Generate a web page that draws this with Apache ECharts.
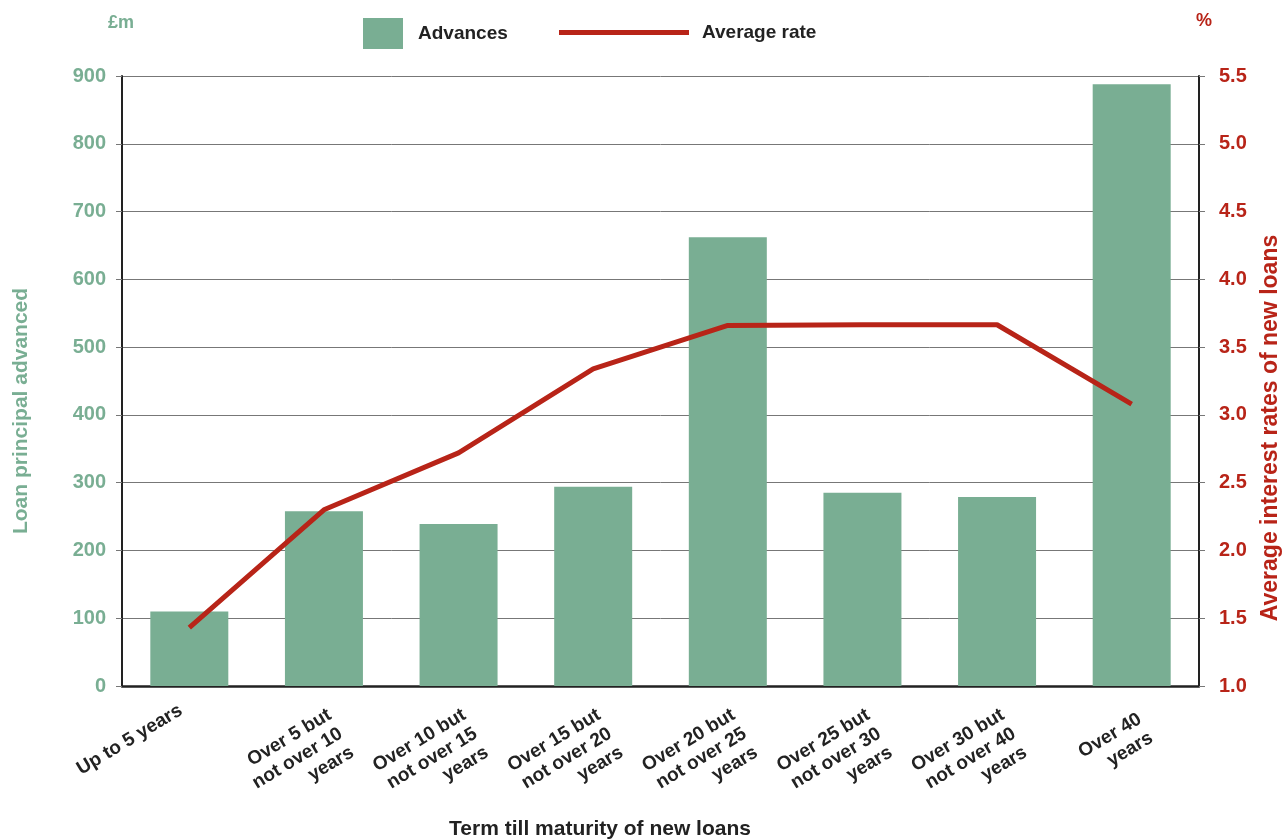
<!DOCTYPE html>
<html>
<head>
<meta charset="utf-8">
<script src="https://cdn.jsdelivr.net/npm/echarts@6/dist/echarts.min.js"></script>
<style>
html,body{margin:0;padding:0;background:#fff;}
#c{width:1286px;height:840px;}
</style>
</head>
<body>
<div id="c"></div>
<script>
const categories = [
  'Up to 5 years',
  'Over 5 but\nnot over 10\nyears',
  'Over 10 but\nnot over 15\nyears',
  'Over 15 but\nnot over 20\nyears',
  'Over 20 but\nnot over 25\nyears',
  'Over 25 but\nnot over 30\nyears',
  'Over 30 but\nnot over 40\nyears',
  'Over 40\nyears'
];
const advances = [110, 258, 239, 294, 662, 285, 279, 888];
const averageRate = [1.43, 2.30, 2.72, 3.34, 3.66, 3.665, 3.665, 3.08];

const GREEN = '#79ae93';
const RED = '#b82418';
const DARK = '#222222';
const FONT = '"Liberation Sans", Arial, Helvetica, sans-serif';

// per-category label tweaks (text placement only)
const categoryData = categories.map((c, i) => {
  if (i === 0) return {value: c, textStyle: {align: 'right', verticalAlign: 'middle', padding: [10, 10, 0, 0]}};
  if (i === categories.length - 1) return {value: c, textStyle: {align: 'right', verticalAlign: 'top', padding: [5, 0, 0, 0]}};
  return c;
});

const chart = echarts.init(document.getElementById('c'), null, {renderer: 'canvas'});
chart.setOption({
  animation: false,
  backgroundColor: '#ffffff',
  textStyle: {fontFamily: FONT},
  grid: {left: 122, right: 87, top: 76, bottom: 154, containLabel: false},
  legend: [
    {
      data: ['Advances'], left: 358, top: 13, icon: 'rect',
      itemWidth: 40, itemHeight: 31,
      textStyle: {fontFamily: FONT, fontSize: 19, fontWeight: 'bold', color: DARK, padding: [0, 0, 0, 10]}
    },
    {
      data: ['Average rate'], left: 554, top: 18, icon: 'rect',
      itemWidth: 130, itemHeight: 5,
      textStyle: {fontFamily: FONT, fontSize: 19, fontWeight: 'bold', color: DARK, padding: [0, 0, 0, 8]}
    }
  ],
  xAxis: {
    type: 'category',
    data: categoryData,
    axisLine: {show: true, lineStyle: {color: DARK, width: 2.5}},
    axisTick: {show: false},
    splitLine: {show: false},
    axisLabel: {
      interval: 0, rotate: 31, hideOverlap: false,
      margin: 18, verticalAlign: 'top', align: 'right',
      fontFamily: FONT, fontSize: 19, fontWeight: 'bold', color: DARK, lineHeight: 22
    }
  },
  yAxis: [
    {
      type: 'value', min: 0, max: 900, interval: 100, position: 'left',
      axisLine: {show: true, lineStyle: {color: DARK, width: 2}},
      axisTick: {show: true, length: 6, lineStyle: {color: '#777', width: 1}},
      splitLine: {show: true, lineStyle: {color: '#777', width: 1}},
      axisLabel: {margin: 16, fontFamily: FONT, fontSize: 20, fontWeight: 'bold', color: GREEN}
    },
    {
      type: 'value', min: 1, max: 5.5, interval: 0.5, position: 'right',
      axisLine: {show: true, lineStyle: {color: DARK, width: 2}},
      axisTick: {show: true, length: 6, lineStyle: {color: '#777', width: 1}},
      splitLine: {show: false},
      axisLabel: {
        margin: 20, fontFamily: FONT, fontSize: 20, fontWeight: 'bold', color: RED,
        formatter: v => v.toFixed(1)
      }
    }
  ],
  series: [
    {
      name: 'Advances', type: 'bar', data: advances, barWidth: 78,
      itemStyle: {color: GREEN}, z: 2
    },
    {
      name: 'Average rate', type: 'line', data: averageRate, yAxisIndex: 1,
      symbol: 'none', lineStyle: {color: RED, width: 5}, itemStyle: {color: RED}, z: 3
    }
  ],
  graphic: [
    {type: 'text', left: 108, top: 14, style: {text: '£m', fill: GREEN, font: 'bold 18px ' + FONT}},
    {type: 'text', left: 1196, top: 12, style: {text: '%', fill: RED, font: 'bold 18px ' + FONT}},
    {type: 'text', x: 21, y: 411, rotation: Math.PI / 2,
      style: {text: 'Loan principal advanced', fill: GREEN, font: 'bold 21px ' + FONT, align: 'center', verticalAlign: 'middle'}},
    {type: 'text', x: 1271, y: 428, rotation: Math.PI / 2,
      style: {text: 'Average interest rates of new loans', fill: RED, font: 'bold 23px ' + FONT, align: 'center', verticalAlign: 'middle'}},
    {type: 'text', x: 600, y: 829,
      style: {text: 'Term till maturity of new loans', fill: DARK, font: 'bold 21px ' + FONT, align: 'center', verticalAlign: 'middle'}}
  ]
});
</script>
</body>
</html>
